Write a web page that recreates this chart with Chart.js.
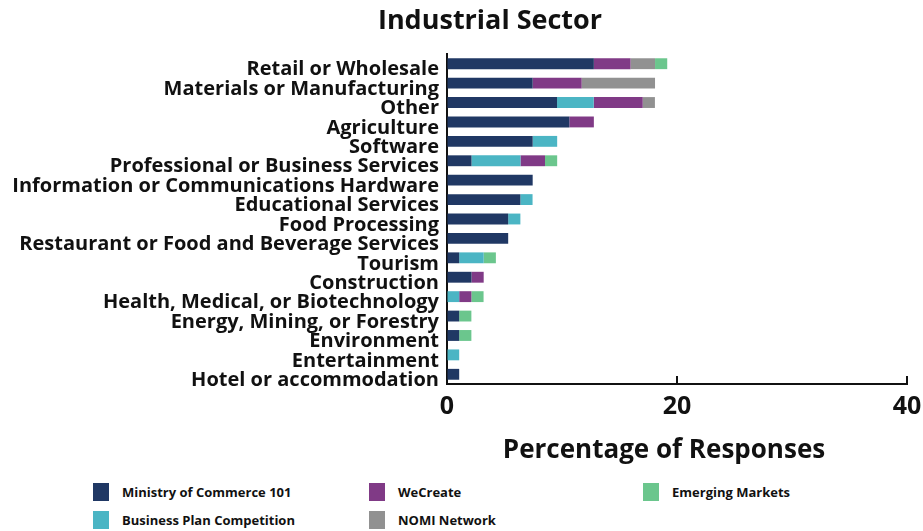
<!DOCTYPE html>
<html>
<head>
<meta charset="utf-8">
<script src="https://cdn.jsdelivr.net/npm/chart.js@4.4.1/dist/chart.umd.min.js"></script>
<style>
  body { margin: 0; background: #fff; }
  #wrap { position: relative; width: 923px; height: 531px; overflow: hidden; }
  #sectors { position: absolute; left: 0; top: 0; }
  #legend {
    position: absolute; left: 93px; top: 483px;
    display: grid; grid-auto-flow: column;
    grid-template-rows: 18px 18px; grid-template-columns: 276px 274px 200px;
    row-gap: 10px;
    font: bold 13px "Open Sans", sans-serif; color: #111;
  }
  .item { display: flex; align-items: center; height: 18px; }
  .swatch { width: 16px; height: 18px; margin-right: 13px; flex: none; }
</style>
</head>
<body>
<div id="wrap">
  <canvas id="sectors" width="923" height="470"></canvas>
  <div id="legend"></div>
</div>
<script>
// share of 94 survey responses, per program
const categories = [
  "Retail or Wholesale", "Materials or Manufacturing", "Other", "Agriculture",
  "Software", "Professional or Business Services", "Information or Communications Hardware",
  "Educational Services", "Food Processing", "Restaurant or Food and Beverage Services",
  "Tourism", "Construction", "Health, Medical, or Biotechnology",
  "Energy, Mining, or Forestry", "Environment", "Entertainment", "Hotel or accommodation"
];
const ministry  = [12.77, 7.45, 9.57, 10.64, 7.45, 2.13, 7.45, 6.38, 5.32, 5.32, 1.06, 2.13, 0, 1.06, 1.06, 0, 1.06];
const bizPlan   = [0, 0, 3.19, 0, 2.13, 4.26, 0, 1.06, 1.06, 0, 2.13, 0, 1.06, 0, 0, 1.06, 0];
const weCreate  = [3.19, 4.26, 4.26, 2.13, 0, 2.13, 0, 0, 0, 0, 0, 1.06, 1.06, 0, 0, 0, 0];
const nomi      = [2.13, 6.38, 1.06, 0, 0, 0, 0, 0, 0, 0, 0, 0, 0, 0, 0, 0, 0];
const emerging  = [1.06, 0, 0, 0, 0, 1.06, 0, 0, 0, 0, 1.06, 0, 1.06, 1.06, 1.06, 0, 0];
const xTicks = [0, 20, 40];

const FONT = "'Open Sans', sans-serif";

function series(label, data, color) {
    return { label, data, backgroundColor: color, borderWidth: 0,
             barPercentage: 0.56, categoryPercentage: 1 };
}

// chart heading and x axis caption, both sit left of the centre they would get by default
const captions = {
    id: "captions",
    afterDraw(chart) {
        const c = chart.ctx;
        c.save();
        c.fillStyle = "#111";
        c.textAlign = "center";
        c.textBaseline = "middle";
        c.font = "bold 27px " + FONT;
        c.fillText("Industrial Sector", 490, 21);
        c.font = "bold 26px " + FONT;
        c.fillText("Percentage of Responses", 664, 451);
        c.restore();
    }
};

// small tick marks pointing up into the plot
const innerTicks = {
    id: "innerTicks",
    afterDraw(chart) {
        const x = chart.scales.x, c = chart.ctx;
        c.save();
        c.strokeStyle = "#111";
        c.lineWidth = 2;
        for (let v of xTicks.slice(1)) {
            let px = Math.round(x.getPixelForValue(v));
            c.beginPath();
            c.moveTo(px, x.top);
            c.lineTo(px, x.top - 8);
            c.stroke();
        }
        c.restore();
    }
};

const chart = new Chart(document.getElementById("sectors"), {
    type: "bar",
    data: {
        labels: categories,
        datasets: [
            series("Ministry of Commerce 101", ministry, "#203864"),
            series("Business Plan Competition", bizPlan, "#4bb5c4"),
            series("WeCreate", weCreate, "#803a86"),
            series("NOMI Network", nomi, "#919191"),
            series("Emerging Markets", emerging, "#6bc68d")
        ]
    },
    options: {
        indexAxis: "y",
        responsive: false,
        animation: false,
        layout: { padding: { top: 54, right: 16, left: 0, bottom: 0 } },
        plugins: {
            legend: { display: false },
            title: { display: false },
            tooltip: { enabled: false }
        },
        scales: {
            x: {
                stacked: true,
                min: 0, max: 40,
                afterBuildTicks: (s) => { s.ticks = xTicks.map(v => ({ value: v })); },
                afterFit: (s) => { s.height = 86; s.paddingLeft = 0; s.paddingRight = 0; },
                grid: { drawOnChartArea: false, drawTicks: false },
                border: { color: "#111", width: 2 },
                ticks: { color: "#111", padding: 8, font: { family: FONT, size: 25, weight: "bold" } }
            },
            y: {
                stacked: true,
                afterFit: (s) => { s.width = 447; },
                grid: { display: false, drawTicks: false },
                border: { color: "#111", width: 2 },
                ticks: { color: "#111", padding: 8, autoSkip: false, labelOffset: 6,
                         font: { family: FONT, size: 20, weight: "bold" } }
            }
        }
    },
    plugins: [captions, innerTicks]
});

// legend laid out in columns, built from the datasets
const legendBox = document.getElementById("legend");
for (let ds of chart.data.datasets) {
    let item = document.createElement("div");
    item.className = "item";
    let sw = document.createElement("span");
    sw.className = "swatch";
    sw.style.background = ds.backgroundColor;
    item.appendChild(sw);
    item.appendChild(document.createTextNode(ds.label));
    legendBox.appendChild(item);
}
</script>
</body>
</html>
